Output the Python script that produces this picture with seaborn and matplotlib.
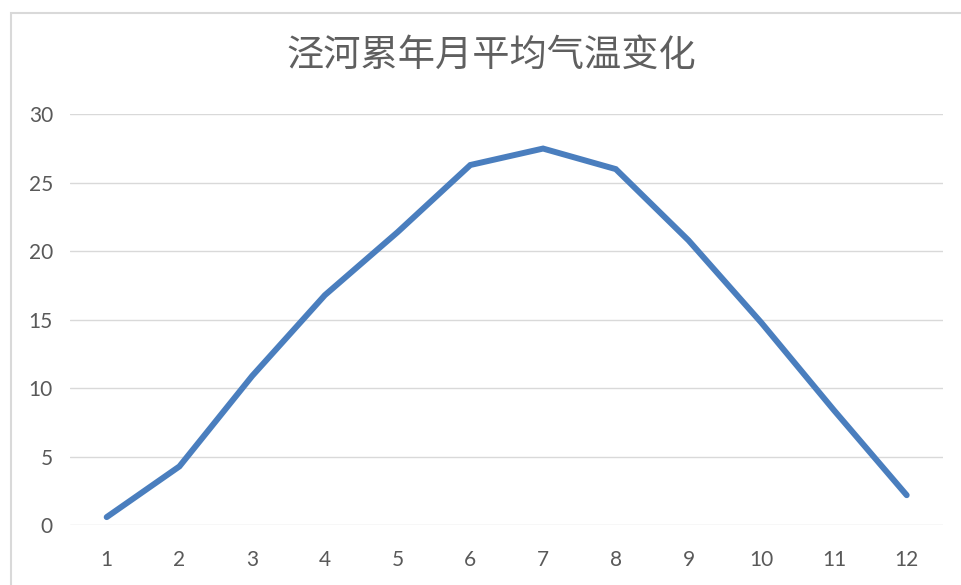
import matplotlib
matplotlib.use("Agg")
import matplotlib.pyplot as plt
from matplotlib.patches import Rectangle
import pandas as pd
import seaborn as sns

# Monthly mean temperature of the Jing River (long-term average)
months = [1, 2, 3, 4, 5, 6, 7, 8, 9, 10, 11, 12]
temps = [0.6, 4.3, 10.9, 16.8, 21.4, 26.3, 27.5, 26.0, 20.8, 14.8, 8.4, 2.2]
y_ticks = [0, 5, 10, 15, 20, 25, 30]
title = "泾河累年月平均气温变化"

df = pd.DataFrame({"month": months, "temp": temps})

sns.set_theme(style="white")
plt.rcParams["font.family"] = ["Lato", "Noto Sans CJK SC", "DejaVu Sans"]

fig = plt.figure(figsize=(9.62, 5.85), dpi=100)
ax = fig.add_axes([0.0731, 0.102, 0.9072, 0.7026])

# chart-area frame
fig.patches.append(Rectangle((11 / 962, -0.2), 1.2, 1.2 - 13 / 585,
                             transform=fig.transFigure, fill=False,
                             edgecolor="#d9d9d9", linewidth=1.5, zorder=0))

sns.lineplot(data=df, x="month", y="temp", ax=ax, color="#4a7ebe",
             linewidth=4.3, solid_capstyle="round", solid_joinstyle="miter")

ax.set_xlim(0.5, 12.5)
ax.set_ylim(0, 30)
ax.set_xticks(months)
ax.set_xticklabels([str(m) for m in months])
ax.set_yticks(y_ticks)
ax.set_yticklabels([str(v) for v in y_ticks])
ax.yaxis.grid(True, color="#d9d9d9", linewidth=1.0)
ax.xaxis.grid(False)
ax.set_axisbelow(True)
for s in ax.spines.values():
    s.set_visible(False)
ax.tick_params(axis="both", length=0, labelsize=15, labelcolor="#595959")
ax.tick_params(axis="x", pad=18)
ax.tick_params(axis="y", pad=12.5)
ax.set_xlabel("")
ax.set_ylabel("")

fig.text(491 / 962, 1 - 55 / 585, title, ha="center", va="center",
         fontsize=26.8, color="#5f5f5f",
         family=["Noto Sans CJK SC", "DejaVu Sans"], fontweight="light")

fig.savefig("out.png", dpi=100)
